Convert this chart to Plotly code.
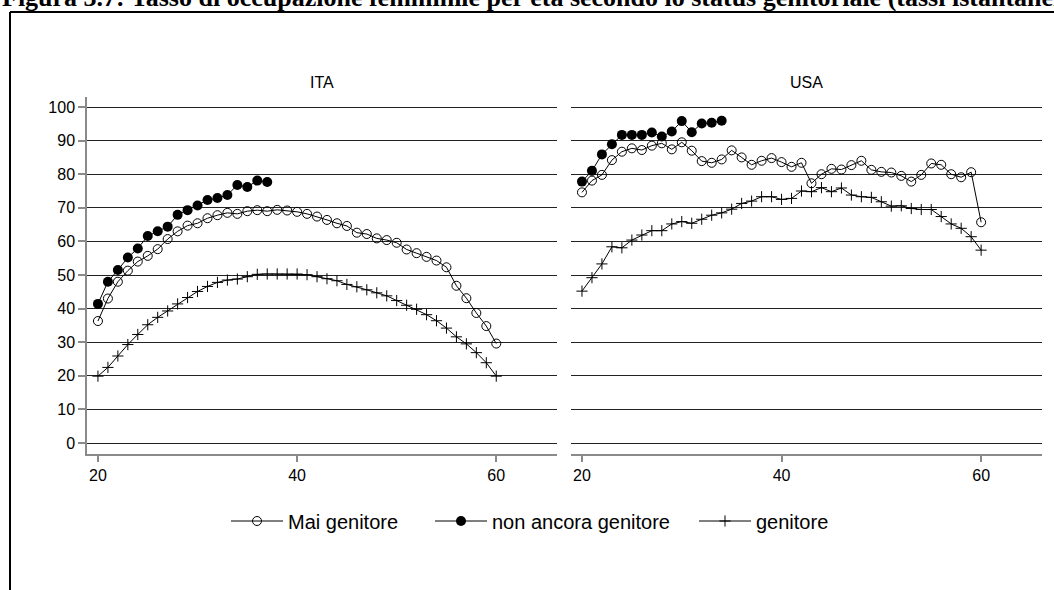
import plotly.graph_objects as go

# ---------------- data ----------------
ages = list(range(20, 61))
ita_mai = [36.3, 43.0, 48.0, 51.3, 54.0, 55.7, 57.7, 60.7, 63.0, 64.7,
           65.4, 66.9, 67.8, 68.5, 68.2, 69.0, 69.3, 69.0, 69.4, 69.2,
           68.8, 68.2, 67.4, 66.4, 65.4, 64.6, 62.6, 62.2, 60.9, 60.4,
           59.6, 57.6, 56.5, 55.4, 54.3, 52.3, 46.8, 43.1, 38.7, 34.8, 29.6]
ages_ita_nonancora = list(range(20, 38))
ita_nonancora = [41.4, 48.0, 51.5, 55.2, 57.9, 61.6, 63.0, 64.4, 67.9, 69.3,
                 70.7, 72.3, 72.9, 73.8, 76.8, 76.2, 78.1, 77.7]
ita_genitore = [19.9, 22.5, 25.9, 29.3, 32.3, 35.2, 37.4, 39.3, 41.4, 43.3,
                45.1, 46.6, 47.8, 48.5, 48.8, 49.5, 50.2, 50.3, 50.3, 50.3,
                50.3, 50.1, 49.5, 48.9, 48.3, 47.2, 46.5, 45.6, 44.7, 43.8,
                42.4, 41.0, 39.8, 38.2, 36.4, 34.2, 31.6, 29.5, 26.9, 23.9, 19.9]

usa_mai = [74.6, 78.1, 79.8, 84.2, 86.7, 87.7, 87.2, 88.5, 89.2, 87.4,
           89.5, 87.0, 83.9, 83.4, 84.4, 87.1, 85.0, 82.8, 84.0, 84.8,
           83.6, 82.2, 83.4, 77.3, 80.0, 81.6, 81.4, 82.7, 84.0, 81.3,
           80.7, 80.5, 79.5, 77.8, 79.8, 83.2, 82.8, 80.0, 79.1, 80.6, 65.7]
ages_usa_nonancora = list(range(20, 35))
usa_nonancora = [77.8, 81.0, 85.9, 88.9, 91.7, 91.7, 91.7, 92.4, 91.2, 92.7,
                 95.8, 92.5, 95.1, 95.3, 95.9]
usa_genitore = [45.2, 49.2, 53.3, 58.4, 58.1, 60.4, 61.9, 63.2, 63.2, 65.2,
                65.9, 65.4, 66.6, 67.8, 68.5, 69.6, 71.3, 72.0, 73.3, 73.3,
                72.5, 72.8, 75.0, 74.8, 76.0, 74.8, 75.9, 73.8, 73.3, 73.1,
                71.8, 70.5, 70.6, 69.8, 69.5, 69.5, 67.4, 65.2, 63.9, 61.4, 57.4]

series_names = ["Mai genitore", "non ancora genitore", "genitore"]
panel_titles = ["ITA", "USA"]
title_text = ("Figura 3.7: Tasso di occupazione femminile per età secondo lo "
              "status genitoriale (tassi istantanei)")
x_ticks = [20, 40, 60]
y_ticks = list(range(0, 101, 10))

# ---------------- figure ----------------
W, H = 1054, 590
FONT = "Liberation Sans, Arial, Helvetica, sans-serif"

def px(x):
    return x / W

def py(y):
    return 1 - y / H

styles = [
    dict(symbol="circle-open", size=9, color="black", line=dict(width=1, color="black")),
    dict(symbol="circle", size=10, color="black", line=dict(width=0)),
    dict(symbol="cross-thin-open", size=8, color="black", line=dict(width=1, color="black")),
]
legend_ids = ["legend", "legend2", "legend3"]
legend_left = [226, 430, 694]

fig = go.Figure()

panels = [
    ("x", "y", [(ages, ita_mai), (ages_ita_nonancora, ita_nonancora), (ages, ita_genitore)], True),
    ("x2", "y2", [(ages, usa_mai), (ages_usa_nonancora, usa_nonancora), (ages, usa_genitore)], False),
]
for xa, ya, data, show in panels:
    for i, (xs, ys) in enumerate(data):
        fig.add_trace(go.Scatter(
            x=xs, y=ys, xaxis=xa, yaxis=ya, mode="lines+markers",
            name=series_names[i], legendgroup=series_names[i], showlegend=show,
            legend=legend_ids[i],
            line=dict(color="black", width=1),
            marker=styles[i],
        ))

xrange = [18.9, 66.1]
yrange = [-3.27, 102.98]
grid_col = "#222222"
axis_col = "#8a8a8a"

common_x = dict(range=xrange, tickvals=x_ticks, showgrid=False, zeroline=False,
                showline=True, linecolor=axis_col, linewidth=1.5,
                ticks="outside", ticklen=6, tickcolor=axis_col, tickwidth=1.5,
                tickfont=dict(family=FONT, size=16, color="black"), fixedrange=True)
common_y = dict(range=yrange, tickvals=y_ticks, showgrid=True, gridcolor=grid_col,
                gridwidth=1, zeroline=False, fixedrange=True)

legend_common = dict(orientation="h", xanchor="left", y=py(521), yanchor="middle",
                     font=dict(family=FONT, size=20, color="black"),
                     bgcolor="rgba(0,0,0,0)", itemwidth=52,
                     itemclick=False, itemdoubleclick=False)
legend_layout = {lid: dict(x=px(lx), **legend_common) for lid, lx in zip(legend_ids, legend_left)}

fig.update_layout(
    width=W, height=H,
    margin=dict(l=0, r=0, t=0, b=0),
    paper_bgcolor="white", plot_bgcolor="white",
    font=dict(family=FONT, size=15, color="black"),
    xaxis=dict(domain=[px(87), px(557)], anchor="y", **common_x),
    xaxis2=dict(domain=[px(571), px(1042)], anchor="y2", **common_x),
    yaxis=dict(domain=[py(454), py(97)], anchor="x", showline=True, linecolor=axis_col,
               linewidth=1.5, ticks="outside", ticklen=7, tickcolor=axis_col, tickwidth=1.5,
               tickfont=dict(family=FONT, size=16, color="black"), **common_y),
    yaxis2=dict(domain=[py(454), py(97)], anchor="x2", showline=False, ticks="",
                showticklabels=False, **common_y),
    showlegend=True,
    **legend_layout,
)

# panel titles
for title, (a, b) in zip(panel_titles, [(87, 557), (571, 1042)]):
    fig.add_annotation(text=title, x=px((a + b) / 2), y=py(82.5), xref="paper", yref="paper",
                       xanchor="center", yanchor="middle", showarrow=False,
                       font=dict(family=FONT, size=16, color="black"))

# figure caption at the top (partly clipped by the page edge, as in the source)
fig.add_annotation(text="<b>" + title_text + "</b>", x=px(0), y=py(14), xref="paper", yref="paper",
                   xanchor="left", yanchor="bottom", showarrow=False,
                   font=dict(family="Liberation Serif, Times New Roman, serif", size=26, color="black"))

# outer frame (left and top borders)
fig.add_shape(type="line", xref="paper", yref="paper", x0=px(10), x1=px(10), y0=0, y1=py(12),
              line=dict(color="black", width=2))
fig.add_shape(type="line", xref="paper", yref="paper", x0=px(10), x1=1, y0=py(12), y1=py(12),
              line=dict(color="black", width=2))

fig.write_html("out.html")
